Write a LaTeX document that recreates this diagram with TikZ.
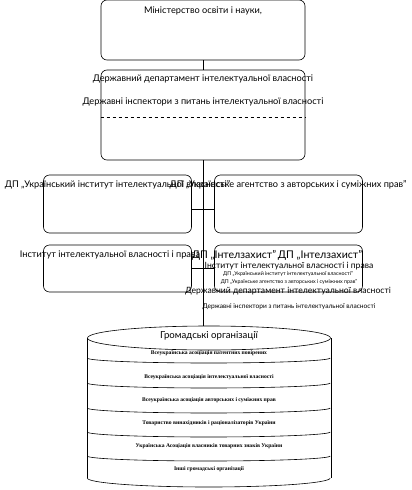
\documentclass[tikz,border=0pt]{standalone}
\usepackage{fontspec}
\setmainfont{Lato}
\newfontfamily\bandfont{Liberation Serif}
\usetikzlibrary{positioning, shapes.geometric, calc}

\begin{document}
\begin{tikzpicture}[
  x=1pt, y=-1pt,
  every node/.style={inner sep=0pt},
  bigBox/.style={rectangle, rounded corners=6pt, draw=black, line width=0.6pt,
                 fill=white, minimum width=204pt},
  subBox/.style={rectangle, rounded corners=6pt, draw=black, line width=0.6pt,
                 fill=white, minimum width=148pt},
  lbl/.style={font=\fontsize{9.2}{11}\selectfont},
  wideLbl/.style={font=\fontsize{10.6}{12}\selectfont},
  midLbl/.style={font=\fontsize{8.6}{10}\selectfont},
  smallLbl/.style={font=\fontsize{6.6}{8}\selectfont},
  tinyLbl/.style={font=\fontsize{5.3}{6}\selectfont},
  band/.style={font=\bandfont\bfseries\fontsize{5.6}{6}\selectfont},
  link/.style={draw=black, line width=0.6pt},
]
  \useasboundingbox (0,0) rectangle (412,490);

  % ministry and department
  \node[bigBox, minimum height=60pt] (minEdu) at (203,30) {};
  \node[lbl] (minEduTxt) at (203,11) {Міністерство освіти і науки,};

  \node[bigBox, minimum height=90pt] (dep) at (203,115) {};
  \node[lbl] (depTxt) at (203,79) {Державний департамент інтелектуальної власності};
  \node[lbl] (inspTxt) at (203,102) {Державні інспектори з питань інтелектуальної власності};
  \draw[link, dashed] (dep.west |- 0,117) -- (dep.east |- 0,117);

  % state enterprises
  \node[subBox, minimum height=58pt] (uiip) at (117.5,204) {};
  \node[subBox, minimum height=58pt] (uacrr) at (288.5,204) {};
  \node[lbl] (uiipTxt) at (117.5,185) {ДП „Український інститут інтелектуальної власності"};
  \node[lbl] (uacrrTxt) at (288,185) {ДП „Українське агентство з авторських і суміжних прав"};

  \node[subBox, minimum height=47pt] (iipl) at (117.5,268.5) {};
  \node[subBox, minimum height=47pt] (intel) at (288.5,268.5) {};
  \node[lbl] (iiplTxt) at (110,255) {Інститут інтелектуальної власності і права};
  \node[wideLbl] (intelTxtA) at (234,255) {ДП „Інтелзахист"};
  \node[wideLbl] (intelTxtB) at (320,255) {ДП „Інтелзахист"};
  \node[midLbl] (intelTxtC) at (289,266) {Інститут інтелектуальної власності і права};
  \node[tinyLbl] (intelTxtD) at (288,274) {ДП „Український інститут інтелектуальної власності"};
  \node[tinyLbl] (intelTxtE) at (289,282) {ДП „Українське агентство з авторських і суміжних прав"};
  \node[midLbl] (intelTxtF) at (288,291) {Державний департамент інтелектуальної власності};
  \node[smallLbl] (intelTxtG) at (289,307) {Державні інспектори з питань інтелектуальної власності};

  % public organisations
  \node[ellipse, draw=black, line width=0.6pt, minimum width=243pt,
        minimum height=24pt] (orgs) at (209,338) {};
  \node[font=\fontsize{9.6}{12}\selectfont] (orgsTxt) at (209,336) {Громадські організації};
  \draw[link] (orgs.west) -- ++(0,140) coordinate (cylSW);
  \draw[link] (orgs.east) -- ++(0,140) coordinate (cylSE);
  \draw[link] (cylSW) arc[start angle=180, end angle=360, x radius=121.5pt, y radius=9pt];
  \foreach \yy in {358,383,408,432,456}
    \draw[link] (orgs.west |- 0,\yy) arc[start angle=180, end angle=360,
                                         x radius=121.5pt, y radius=5pt];

  \node[band] (b1) at (209,353) {Всеукраїнська асоціація патентних повірених};
  \node[band] (b2) at (209,377) {Всеукраїнська асоціація інтелектуальної власності};
  \node[band] (b3) at (209,400) {Всеукраїнська асоціація авторських і суміжних прав};
  \node[band] (b4) at (209,423) {Товариство винахідників і раціоналізаторів України};
  \node[band] (b5) at (209,446) {Українська Асоціація власників товарних знаків України};
  \node[band] (b6) at (209,469) {Інші громадські організації};

  % connectors
  \draw[link] (minEdu.south) -- (dep.north);
  \draw[link] (dep.south) -- (dep.south |- orgs.north);
  \draw[link] (uiip.east |- 0,209) -- (uacrr.west |- 0,209);
  \draw[link] (iipl.east |- 0,268) -- (intel.west |- 0,268);
\end{tikzpicture}
\end{document}
